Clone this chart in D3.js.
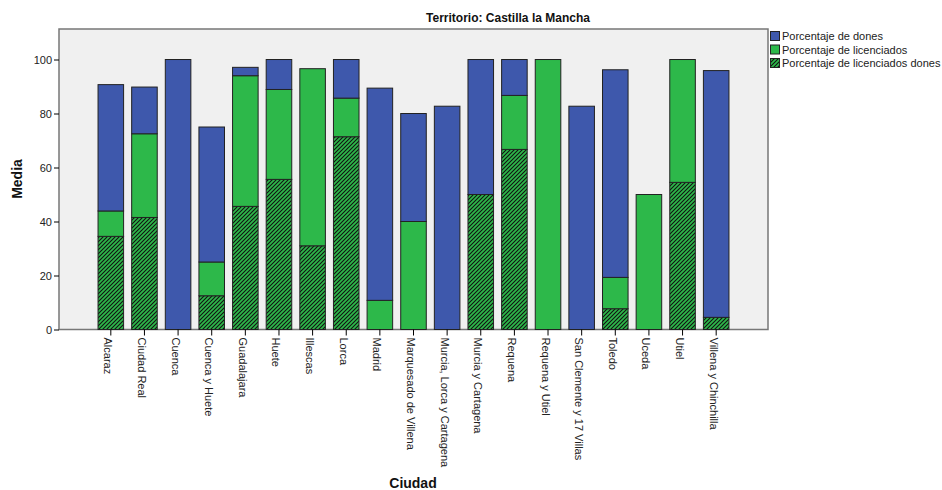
<!DOCTYPE html>
<html><head><meta charset="utf-8">
<script src="https://cdn.jsdelivr.net/npm/d3@7"></script>
<style>body{margin:0;background:#fff;} text{font-family:"Liberation Sans",Arial,sans-serif;}</style>
</head><body>
<svg id="c" width="942" height="490"></svg>
<script>
const categories = ["Alcaraz","Ciudad Real","Cuenca","Cuenca y Huete","Guadalajara","Huete","Illescas","Lorca","Madrid","Marquesado de Villena","Murcia, Lorca y Cartagena","Murcia y Cartagena","Requena","Requena y Utiel","San Clemente y 17 Villas","Toledo","Uceda","Utiel","Villena y Chinchilla"];
const licenciadosDones = [34.5,41.5,0,12.5,45.6,55.6,31.0,71.4,0,0,0,50,66.7,0,0,7.7,0,54.5,4.5];
const licenciados = [9.4,31.0,0,12.5,48.4,33.3,65.6,14.3,10.8,40,0,0,20,100,0,11.6,50,45.5,0];
const dones = [46.8,17.3,100,50,3.1,11.1,0,14.3,78.6,40,82.7,50,13.3,0,82.7,76.9,0,0,91.4];
const seriesNames = ["Porcentaje de dones","Porcentaje de licenciados","Porcentaje de licenciados dones"];
const yTicks = [0,20,40,60,80,100];

const svg = d3.select("#c");
const L=59, R=768, T=29, B=329.5;
const x = d3.scaleBand().domain(categories).range([L+35,R-35]).paddingInner(0.24).paddingOuter(0.12);
const y = d3.scaleLinear().domain([0,111.3]).range([B,T]);

const defs = svg.append("defs");
const pat = defs.append("pattern").attr("id","hatch").attr("patternUnits","userSpaceOnUse")
  .attr("width",4).attr("height",4);
pat.append("rect").attr("width",4).attr("height",4).attr("fill","#2db84a");
pat.append("path").attr("d","M-1,1 L1,-1 M0,4 L4,0 M3,5 L5,3").attr("stroke","#111").attr("stroke-width",1.1);

svg.append("rect").attr("x",L).attr("y",T).attr("width",R-L).attr("height",B-T)
  .attr("fill","#f0f0f0").attr("stroke","#777").attr("stroke-width",1.5);

const table = categories.map((c,i)=>({cat:c, ld:licenciadosDones[i], l:licenciados[i], d:dones[i]}));
const stack = d3.stack().keys(["ld","l","d"])(table);
const fills = {ld:"url(#hatch)", l:"#2db84a", d:"#3e58ac"};
stack.forEach(s=>{
  svg.append("g").selectAll("rect").data(s.filter(p=>p[1]-p[0]>0)).join("rect")
    .attr("x",p=>x(p.data.cat)).attr("width",x.bandwidth())
    .attr("y",p=>y(p[1])).attr("height",p=>y(p[0])-y(p[1]))
    .attr("fill",fills[s.key]).attr("stroke","#222").attr("stroke-width",1);
});

// y axis
const ya = svg.append("g").attr("transform",`translate(${L},0)`)
  .call(d3.axisLeft(y).tickValues(yTicks).tickSize(5).tickPadding(2));
ya.select(".domain").remove();
ya.selectAll("line").attr("stroke","#000");
ya.selectAll("text").attr("font-size",11).attr("fill","#222").style("font-family","Liberation Sans, Arial, sans-serif");

// x axis
const xa = svg.append("g").attr("transform",`translate(0,${B})`)
  .call(d3.axisBottom(x).tickSize(6).tickPadding(0));
xa.select(".domain").remove();
xa.selectAll("line").attr("stroke","#000");
xa.selectAll("text").attr("font-size",11).attr("fill","#222").style("font-family","Liberation Sans, Arial, sans-serif")
  .attr("text-anchor","start").attr("dy",null)
  .attr("transform","translate(-6.5,8) rotate(90)").attr("x",0).attr("y",0);

svg.append("text").attr("x",508).attr("y",22).attr("text-anchor","middle").attr("font-weight","bold")
  .attr("font-size",12).attr("fill","#111").text("Territorio: Castilla la Mancha");
svg.append("text").attr("transform","translate(22,179) rotate(-90)").attr("text-anchor","middle")
  .attr("font-weight","bold").attr("font-size",14).attr("fill","#111").text("Media");
svg.append("text").attr("x",413).attr("y",488).attr("text-anchor","middle")
  .attr("font-weight","bold").attr("font-size",14).attr("fill","#111").text("Ciudad");

// legend
const lg = svg.append("g").attr("transform","translate(770,31)");
const lfill = ["#3e58ac","#2db84a","url(#hatch)"];
seriesNames.forEach((n,i)=>{
  lg.append("rect").attr("x",0.5).attr("y",i*13.5+0.5).attr("width",9).attr("height",9)
    .attr("fill",lfill[i]).attr("stroke","#222");
  lg.append("text").attr("x",12).attr("y",i*13.5+9).attr("font-size",11).attr("fill","#222").text(n);
});
</script>
</body></html>
